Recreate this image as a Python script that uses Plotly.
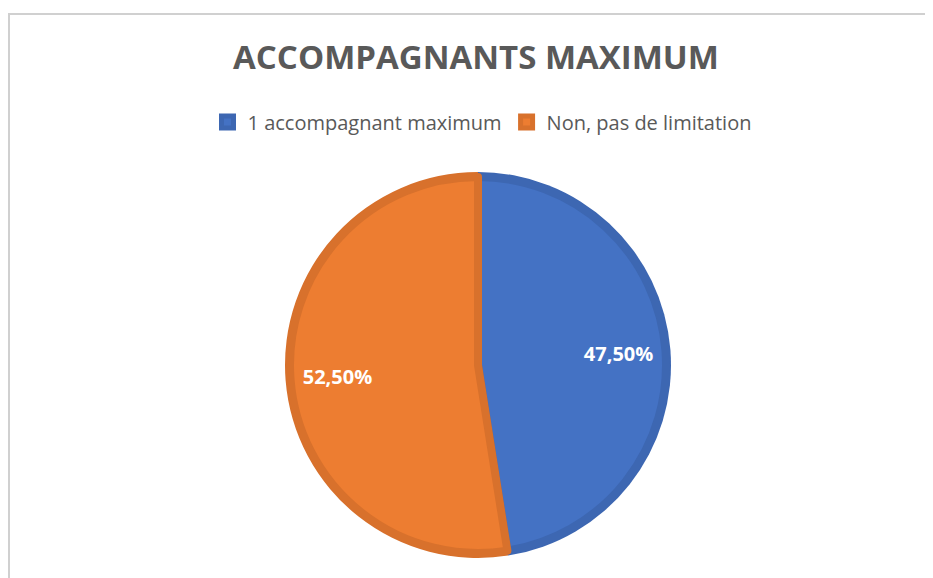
import plotly.graph_objects as go

# data
labels = ["1 accompagnant maximum", "Non, pas de limitation"]
values = [47.5, 52.5]
fill_colors = ["#4472C4", "#ED7D31"]
edge_colors = ["#3D67B2", "#D8712C"]

# the page body has an 8px margin, so the figure is 8px smaller and every
# pixel position below is given in screen coordinates minus 8
OFF = 8
W, H = 933 - OFF, 578 - OFF
cx, cy, r = 478 - OFF, 365 - OFF, 193


def dom(radius):
    # pixel centre/radius -> paper domain (margins are zero)
    return dict(
        x=[(cx - radius) / W, (cx + radius) / W],
        y=[1 - (cy + radius) / H, 1 - (cy - radius) / H],
    )


fig = go.Figure()

# darker outer ring (Excel-style bevel)
fig.add_trace(go.Pie(
    labels=labels, values=values, sort=False, direction="clockwise", rotation=0,
    marker=dict(colors=edge_colors, line=dict(width=0)),
    textinfo="none", hoverinfo="skip", showlegend=False,
    domain=dom(r),
))

# lighter inner pie
fig.add_trace(go.Pie(
    labels=labels, values=values, sort=False, direction="clockwise", rotation=0,
    marker=dict(colors=fill_colors, line=dict(color=edge_colors, width=8)),
    textinfo="none",
    domain=dom(r - 5),
))

# transparent ring carrying the percentage labels (hole pushes them outward)
fig.add_trace(go.Pie(
    labels=labels, values=values, sort=False, direction="clockwise", rotation=0,
    hole=0.5,
    marker=dict(colors=["rgba(0,0,0,0)", "rgba(0,0,0,0)"], line=dict(width=0)),
    texttemplate="%{value:.2f}%", textposition="inside",
    insidetextorientation="horizontal",
    textfont=dict(family="Open Sans", size=20, color="white", weight="bold"),
    hoverinfo="skip", showlegend=False,
    domain=dom(r - 5),
))

fig.update_layout(
    width=W, height=H,
    margin=dict(l=0, r=0, t=0, b=0),
    paper_bgcolor="white",
    separators=", ",
    title=dict(
        text="<b>ACCOMPAGNANTS MAXIMUM</b>",
        x=(476 - OFF) / W, xanchor="center", y=1 - (57 - OFF) / H, yanchor="middle",
        font=dict(family="Open Sans", size=33, color="#595959"),
    ),
    legend=dict(
        orientation="h", x=(482 - OFF) / W, xanchor="center", y=1 - (122 - OFF) / H, yanchor="middle",
        font=dict(family="Open Sans", size=20, color="#595959"),
        traceorder="normal",
    ),
    shapes=[
        dict(type="line", xref="paper", yref="paper", x0=0, x1=1, y0=1 - (14 - OFF) / H, y1=1 - (14 - OFF) / H,
             line=dict(color="#D0D0D0", width=2)),
        dict(type="line", xref="paper", yref="paper", x0=1 / W, x1=1 / W, y0=0, y1=1 - (14 - OFF) / H,
             line=dict(color="#D0D0D0", width=2)),
    ],
)

fig.write_html("out.html")
